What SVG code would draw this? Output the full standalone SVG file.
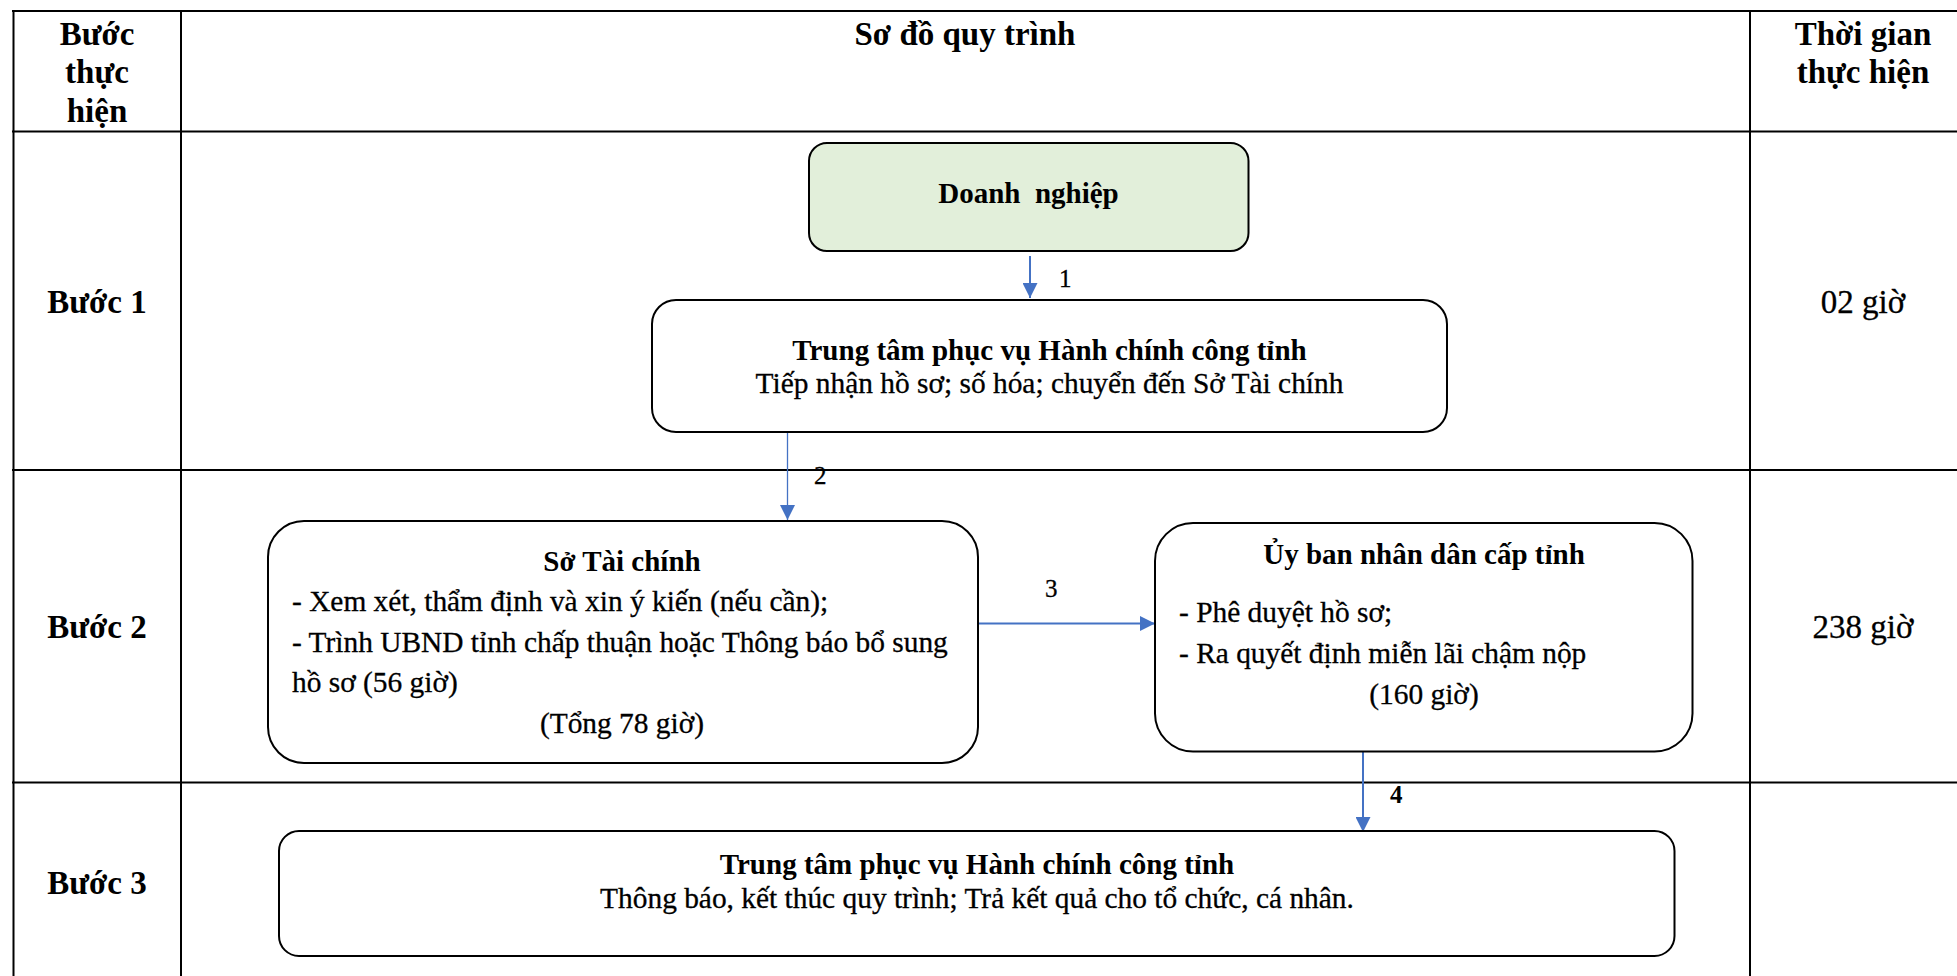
<svg xmlns="http://www.w3.org/2000/svg" width="1957" height="976" viewBox="0 0 1957 976">
<style>
text{font-family:"Liberation Serif",serif;fill:#000}
.h{font-size:33px;font-weight:bold}
.t{font-size:33px;font-weight:normal;stroke:#000;stroke-width:0.3}
.b{font-size:29px;font-weight:bold}
.r{font-size:29.4px;font-weight:normal;stroke:#000;stroke-width:0.3}
.l{font-size:25px;font-weight:normal;stroke:#000;stroke-width:0.3}
.c{text-anchor:middle}
.grid{stroke:#000;stroke-width:2;fill:none}
.box{fill:#fff;stroke:#000;stroke-width:2}
.arr{stroke:#4472C4;stroke-width:2;fill:none}
</style>
<defs>
<marker id="ah" viewBox="0 0 10 10" refX="10" refY="5" markerWidth="15" markerHeight="15" markerUnits="userSpaceOnUse" orient="auto">
<path d="M0,0 L10,5 L0,10 z" fill="#4472C4"/>
</marker>
</defs>
<rect width="1957" height="976" fill="#fff"/>
<g id="table" class="grid">
<line x1="12" y1="11" x2="1957" y2="11"/>
<line x1="12" y1="131.5" x2="1957" y2="131.5"/>
<line x1="12" y1="470" x2="1957" y2="470"/>
<line x1="12" y1="782.5" x2="1957" y2="782.5"/>
<line x1="13.5" y1="10" x2="13.5" y2="976"/>
<line x1="181" y1="10" x2="181" y2="976"/>
<line x1="1750" y1="10" x2="1750" y2="976"/>
</g>
<g id="headers">
<text class="h c" x="97" y="45">Bước</text>
<text class="h c" x="97" y="83">thực</text>
<text class="h c" x="97" y="122">hiện</text>
<text class="h c" x="965" y="45">Sơ đồ quy trình</text>
<text class="h c" x="1863" y="45">Thời gian</text>
<text class="h c" x="1863" y="83">thực hiện</text>
<text class="h c" x="97" y="313">Bước 1</text>
<text class="h c" x="97" y="638">Bước 2</text>
<text class="h c" x="97" y="894">Bước 3</text>
<text class="t c" x="1863" y="313">02 giờ</text>
<text class="t c" x="1863" y="638">238 giờ</text>
</g>
<g id="connectors">
<line class="arr" x1="1030" y1="256" x2="1030" y2="298" marker-end="url(#ah)"/>
<line class="arr" x1="787.5" y1="432" x2="787.5" y2="520" marker-end="url(#ah)" style="stroke-width:1.3"/>
<line class="arr" x1="978" y1="623.5" x2="1155" y2="623.5" marker-end="url(#ah)"/>
<line class="arr" x1="1363" y1="748" x2="1363" y2="832" marker-end="url(#ah)"/>
<text class="l" x="1059" y="287">1</text>
<text class="l" x="814" y="484">2</text>
<text class="l" x="1045" y="597">3</text>
<text class="l" x="1390" y="803" style="font-weight:bold;stroke:none">4</text>
</g>
<g id="node-doanh-nghiep">
<rect class="box" x="809" y="143" width="439.5" height="108" rx="18" style="fill:#E2EFDA"/>
<text class="b c" x="1028.5" y="203" style="white-space:pre">Doanh  nghiệp</text>
</g>
<g id="node-tt-tiep-nhan">
<rect class="box" x="652" y="300" width="795" height="132" rx="24"/>
<text class="b c" x="1049.5" y="360">Trung tâm phục vụ Hành chính công tỉnh</text>
<text class="r c" x="1049.5" y="393">Tiếp nhận hồ sơ; số hóa; chuyển đến Sở Tài chính</text>
</g>
<g id="node-so-tai-chinh">
<rect class="box" x="268" y="521" width="710" height="242" rx="36"/>
<text class="b c" x="622" y="571">Sở Tài chính</text>
<text class="r" x="292" y="611">- Xem xét, thẩm định và xin ý kiến (nếu cần);</text>
<text class="r" x="292" y="652">- Trình UBND tỉnh chấp thuận hoặc Thông báo bổ sung</text>
<text class="r" x="292" y="692">hồ sơ (56 giờ)</text>
<text class="r c" x="622" y="733">(Tổng 78 giờ)</text>
</g>
<g id="node-ubnd">
<rect class="box" x="1155" y="523" width="537.5" height="228.5" rx="38"/>
<text class="b c" x="1424" y="564">Ủy ban nhân dân cấp tỉnh</text>
<text class="r" x="1179" y="622">- Phê duyệt hồ sơ;</text>
<text class="r" x="1179" y="663">- Ra quyết định miễn lãi chậm nộp</text>
<text class="r c" x="1424" y="704">(160 giờ)</text>
</g>
<g id="node-tt-tra-ket-qua">
<rect class="box" x="279" y="831" width="1395.5" height="125" rx="20"/>
<text class="b c" x="977" y="874">Trung tâm phục vụ Hành chính công tỉnh</text>
<text class="r c" x="977" y="908">Thông báo, kết thúc quy trình; Trả kết quả cho tổ chức, cá nhân.</text>
</g>
</svg>
